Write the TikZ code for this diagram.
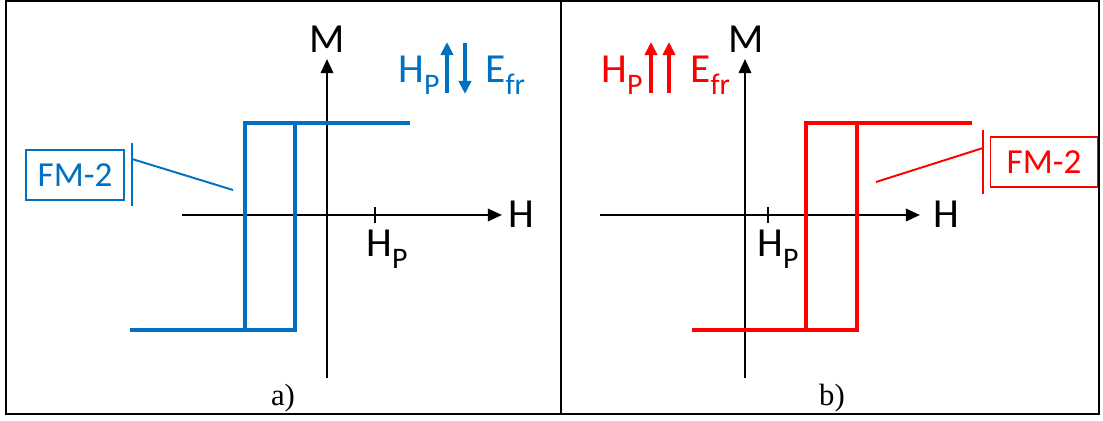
\documentclass[tikz,border=0pt]{standalone}
\usepackage{fontspec}
\setmainfont{Carlito}
\newfontfamily\capfont{Liberation Serif}
\usetikzlibrary{arrows.meta,positioning}
\definecolor{fmblue}{HTML}{0070C0}
\definecolor{fmred}{HTML}{FF0000}
\newcommand{\lowidx}[1]{\raisebox{-0.28em}{\fontsize{17}{17}\selectfont #1}}

\begin{document}
\begin{tikzpicture}[
  x=0.02cm, y=-0.02cm,
  axis/.style={draw=black, line width=1.4pt, -{Triangle[length=8pt,width=7pt]}},
  tickmark/.style={draw=black, line width=1.4pt},
  loopline/.style={line width=2.3pt, line join=miter},
  fieldarrow/.style={line width=2.2pt, -{Triangle[length=7.5pt,width=7pt]}},
  biglabel/.style={font=\fontsize{23.5}{23.5}\selectfont, inner sep=0pt},
  fmbox/.style={draw, line width=1.1pt, font=\fontsize{20}{20}\selectfont,
    inner sep=0pt, minimum height=1.0cm},
  leader/.style={line width=1.1pt},
  caption/.style={font=\capfont\fontsize{17.5}{17.5}\selectfont, inner sep=0pt}
]
\useasboundingbox (0,0) rectangle (1103,421);
\draw[line width=1.5pt] (6,1) rectangle (1099,414);
\draw[line width=1.5pt] (561,1) -- (561,414);

% panel a)
\coordinate (ha0) at (182,215);
\coordinate (ha1) at (502,215);
\coordinate (ma0) at (327,378);
\coordinate (ma1) at (327,59);
\draw[axis] (ha0) -- (ha1);
\draw[axis] (ma0) -- (ma1);
\draw[tickmark] (375,207) -- (375,223);
\node[biglabel, anchor=base] (Ma) at (327,53) {M};
\node[biglabel, anchor=base west] (Ha) at (508,228) {H};
\node[biglabel, anchor=base west] (HPa) at (366,257) {H\lowidx{P}};
\draw[loopline, fmblue] (130,330) -- (295,330) -- (295,123);
\draw[loopline, fmblue] (410,123) -- (245,123) -- (245,330);
\node[biglabel, fmblue, anchor=base east] (HPfa) at (440,83) {H\lowidx{P}};
\node[biglabel, fmblue, anchor=base west] (Efra) at (485,83) {E\lowidx{fr}};
\coordinate (upa0) at (447,93);
\coordinate (upa1) at (447,42);
\coordinate (dna0) at (465,43);
\coordinate (dna1) at (465,94);
\draw[fieldarrow, fmblue] (upa0) -- (upa1);
\draw[fieldarrow, fmblue] (dna0) -- (dna1);
\node[fmbox, fmblue, minimum width=1.96cm] (FMa) at (75,175) {FM-2};
\coordinate (bra0) at (132,143);
\coordinate (bra1) at (132,206);
\coordinate (bra) at (132,159);
\coordinate (pta) at (233,190);
\draw[leader, fmblue] (bra0) -- (bra1);
\draw[leader, fmblue] (bra) -- (pta);
\node[caption] (capa) at (283,398) {a)};

% panel b)
\coordinate (hb0) at (600,215);
\coordinate (hb1) at (920,215);
\coordinate (mb0) at (745,378);
\coordinate (mb1) at (745,59);
\draw[axis] (hb0) -- (hb1);
\draw[axis] (mb0) -- (mb1);
\draw[tickmark] (768,207) -- (768,223);
\node[biglabel, anchor=base] (Mb) at (746,53) {M};
\node[biglabel, anchor=base west] (Hb) at (933,228) {H};
\node[biglabel, anchor=base west] (HPb) at (757,257) {H\lowidx{P}};
\draw[loopline, fmred] (692,330) -- (857,330) -- (857,123);
\draw[loopline, fmred] (972,123) -- (806,123) -- (806,330);
\node[biglabel, fmred, anchor=base east] (HPfb) at (643,83) {H\lowidx{P}};
\node[biglabel, fmred, anchor=base west] (Efrb) at (690,83) {E\lowidx{fr}};
\coordinate (upb0) at (651,93);
\coordinate (upb1) at (651,42);
\coordinate (upc0) at (669,93);
\coordinate (upc1) at (669,42);
\draw[fieldarrow, fmred] (upb0) -- (upb1);
\draw[fieldarrow, fmred] (upc0) -- (upc1);
\node[fmbox, fmred, minimum width=2.14cm] (FMb) at (1044,162) {FM-2};
\coordinate (brb0) at (983,130);
\coordinate (brb1) at (983,194);
\coordinate (brb) at (983,148);
\coordinate (ptb) at (876,182);
\draw[leader, fmred] (brb0) -- (brb1);
\draw[leader, fmred] (brb) -- (ptb);
\node[caption] (capb) at (832,398) {b)};
\end{tikzpicture}
\end{document}
